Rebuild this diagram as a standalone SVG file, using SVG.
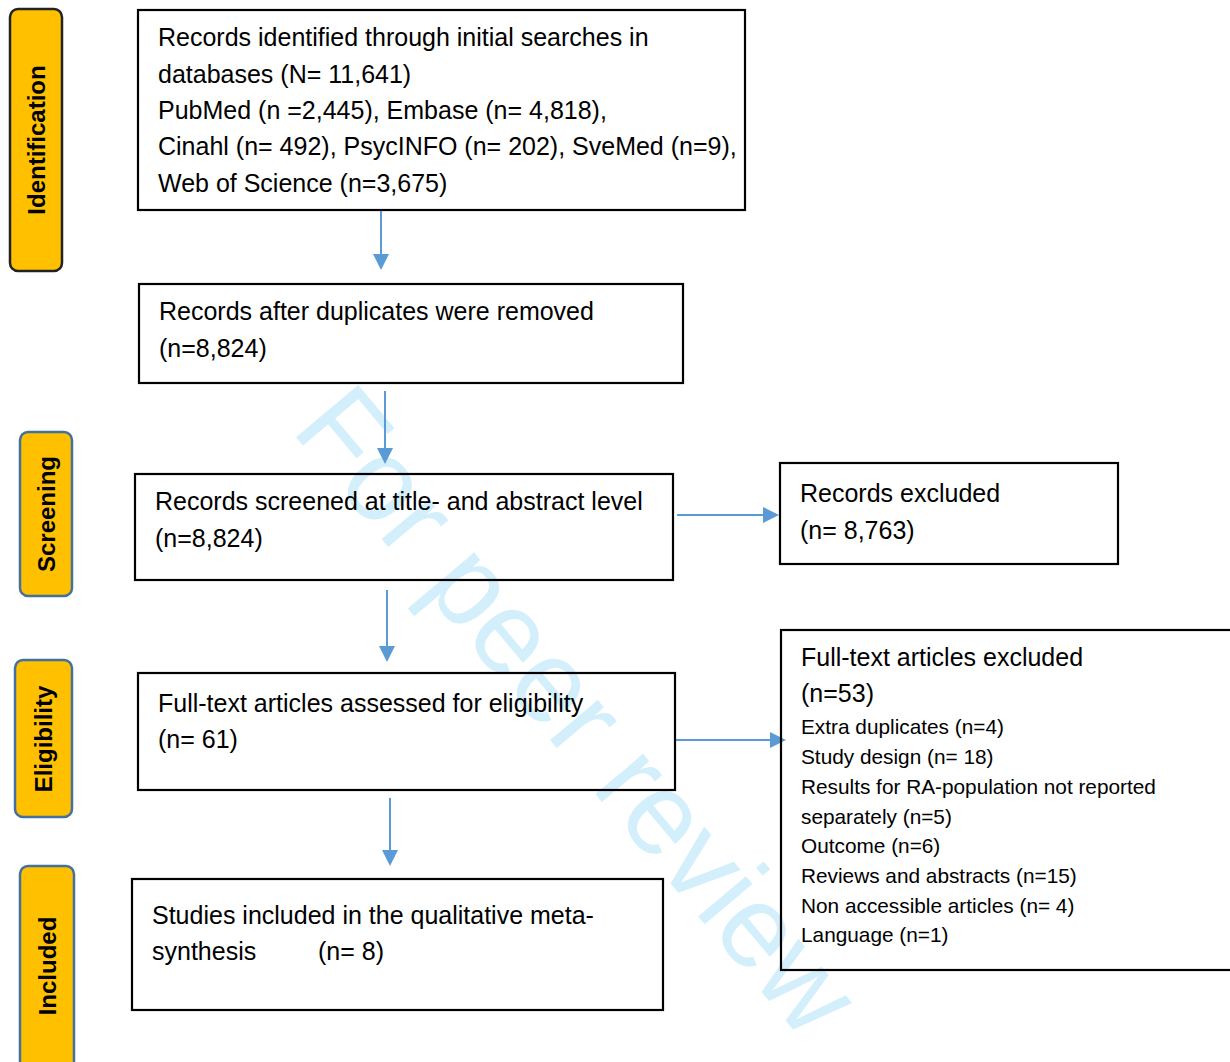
<svg xmlns="http://www.w3.org/2000/svg" width="1230" height="1062" viewBox="0 0 1230 1062">
<defs>
<style>
.box{fill:none;stroke:#000;stroke-width:2.2}
.stage{fill:#FFC000;stroke:#41719C;stroke-width:2.5}
.t{font-family:"Liberation Sans",Arial,sans-serif;font-size:25px;fill:#000}
.s{font-family:"Liberation Sans",Arial,sans-serif;font-size:20.8px;fill:#000}
.lab{font-family:"Liberation Sans",Arial,sans-serif;font-size:24px;font-weight:bold;fill:#000;text-anchor:middle}
.c{stroke:#5B9BD5;stroke-width:2;fill:none}
.wm{font-family:"Liberation Sans",Arial,sans-serif;font-size:118px;fill:#D3EFFC}
</style>
<marker id="ah" markerWidth="8" markerHeight="8" refX="7" refY="4" orient="auto" markerUnits="strokeWidth">
<path d="M0,0 L8,4 L0,8 Z" fill="#5B9BD5"/>
</marker>
</defs>
<rect width="1230" height="1062" fill="#fff"/>

<g id="watermark">
<text class="wm" x="0" y="0" transform="translate(290,430) rotate(50)" textLength="800" lengthAdjust="spacingAndGlyphs">For peer review</text>
</g>

<g id="stage-identification">
<rect class="stage" x="10" y="9" width="52" height="262" rx="8" style="stroke:#222"/>
<text class="lab" transform="translate(45,140) rotate(-90)">Identification</text>
</g>
<g id="stage-screening">
<rect class="stage" x="20" y="432" width="52" height="164" rx="8"/>
<text class="lab" transform="translate(55,514) rotate(-90)">Screening</text>
</g>
<g id="stage-eligibility">
<rect class="stage" x="15" y="660" width="57" height="157" rx="8"/>
<text class="lab" transform="translate(52,739) rotate(-90)">Eligibility</text>
</g>
<g id="stage-included">
<rect class="stage" x="20" y="866" width="54" height="210" rx="8"/>
<text class="lab" transform="translate(56,966) rotate(-90)">Included</text>
</g>

<g id="connectors">
<line class="c" x1="381" y1="211" x2="381" y2="268" marker-end="url(#ah)"/>
<line class="c" x1="385" y1="391" x2="385" y2="462" marker-end="url(#ah)"/>
<line class="c" x1="387" y1="590" x2="387" y2="660" marker-end="url(#ah)"/>
<line class="c" x1="390" y1="798" x2="390" y2="864" marker-end="url(#ah)"/>
<line class="c" x1="677" y1="515" x2="777" y2="515" marker-end="url(#ah)"/>
<line class="c" x1="676" y1="740" x2="784" y2="740" marker-end="url(#ah)"/>
</g>

<g id="node-identified">
<rect class="box" x="138" y="10" width="607" height="200"/>
<text class="t" x="158" y="46">Records identified through initial searches in</text>
<text class="t" x="158" y="83">databases (N= 11,641)</text>
<text class="t" x="158" y="119">PubMed (n =2,445), Embase (n= 4,818),</text>
<text class="t" x="158" y="155">Cinahl (n= 492), PsycINFO (n= 202), SveMed (n=9),</text>
<text class="t" x="158" y="192">Web of Science (n=3,675)</text>
</g>

<g id="node-dedup">
<rect class="box" x="139" y="284" width="544" height="99"/>
<text class="t" x="159" y="320">Records after duplicates were removed</text>
<text class="t" x="159" y="357">(n=8,824)</text>
</g>

<g id="node-screened">
<rect class="box" x="135" y="474" width="538" height="106"/>
<text class="t" x="155" y="510">Records screened at title- and abstract level</text>
<text class="t" x="155" y="547">(n=8,824)</text>
</g>

<g id="node-excluded">
<rect class="box" x="780" y="463" width="338" height="101"/>
<text class="t" x="800" y="502">Records excluded</text>
<text class="t" x="800" y="539">(n= 8,763)</text>
</g>

<g id="node-fulltext">
<rect class="box" x="138" y="673" width="537" height="117"/>
<text class="t" x="158" y="712">Full-text articles assessed for eligibility</text>
<text class="t" x="158" y="748">(n= 61)</text>
</g>

<g id="node-fulltext-excluded">
<rect class="box" x="781" y="630" width="455" height="340"/>
<text class="t" x="801" y="666">Full-text articles excluded</text>
<text class="t" x="801" y="702">(n=53)</text>
<text class="s" x="801" y="734">Extra duplicates (n=4)</text>
<text class="s" x="801" y="764">Study design (n= 18)</text>
<text class="s" x="801" y="794">Results for RA-population not reported</text>
<text class="s" x="801" y="824">separately (n=5)</text>
<text class="s" x="801" y="853">Outcome (n=6)</text>
<text class="s" x="801" y="883">Reviews and abstracts (n=15)</text>
<text class="s" x="801" y="913">Non accessible articles (n= 4)</text>
<text class="s" x="801" y="942">Language (n=1)</text>
</g>

<g id="node-included">
<rect class="box" x="132" y="879" width="531" height="131"/>
<text class="t" x="152" y="924">Studies included in the qualitative meta-</text>
<text class="t" x="152" y="960">synthesis</text>
<text class="t" x="318" y="960">(n= 8)</text>
</g>
</svg>
